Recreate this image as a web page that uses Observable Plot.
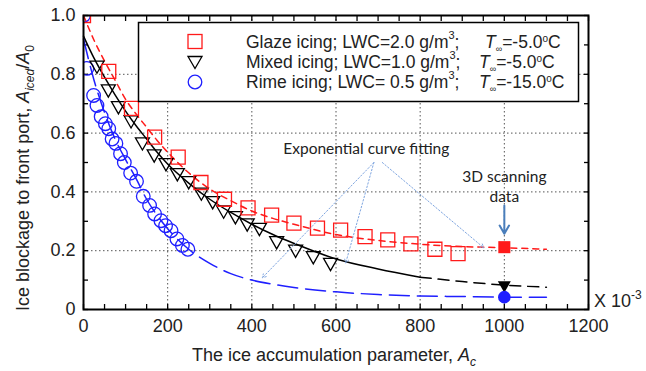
<!DOCTYPE html>
<html><head><meta charset="utf-8">
<script src="https://cdn.jsdelivr.net/npm/d3@7"></script>
<script src="https://cdn.jsdelivr.net/npm/@observablehq/plot@0.6"></script>
<style>body{margin:0;background:#fff}svg{display:block}</style>
</head><body>
<div id="chart"></div>
<script>
// ---- measured data ----
const glazeX = [0, 60, 114, 169, 225, 279, 335, 391, 447, 500, 556, 611, 669, 723, 778, 835, 890];
const glazeY = [1.0, 0.81, 0.684, 0.586, 0.518, 0.432, 0.375, 0.346, 0.321, 0.294, 0.277, 0.27, 0.248, 0.237, 0.223, 0.205, 0.19];
const mixedX = [32, 59, 83, 113, 140, 168, 196, 223, 250, 280, 307, 333, 361, 389, 418, 459, 504, 546, 587];
const mixedY = [0.826, 0.745, 0.688, 0.64, 0.565, 0.524, 0.494, 0.46, 0.433, 0.394, 0.365, 0.333, 0.314, 0.289, 0.274, 0.229, 0.2, 0.178, 0.155];
const rimeX = [0, 8, 24, 32, 42, 52, 60, 68, 77, 88, 97, 112, 126, 142, 157, 169, 184, 195, 208, 222, 235, 248];
const rimeY = [1.0, 0.82, 0.728, 0.694, 0.656, 0.632, 0.615, 0.58, 0.565, 0.53, 0.5, 0.464, 0.436, 0.385, 0.354, 0.325, 0.302, 0.285, 0.268, 0.24, 0.218, 0.205];
// exponential fit curves
const fitX = [0, 25, 50, 75, 100, 125, 150, 175, 200, 250, 300, 350, 400, 450, 500, 600, 700, 800, 900, 1000, 1100];
const glazeFitY = [1.0, 0.916, 0.845, 0.78, 0.715, 0.665, 0.62, 0.575, 0.535, 0.465, 0.41, 0.37, 0.335, 0.31, 0.29, 0.255, 0.235, 0.222, 0.214, 0.21, 0.205];
const mixedFitY = [0.93, 0.855, 0.79, 0.73, 0.675, 0.625, 0.58, 0.535, 0.495, 0.43, 0.375, 0.33, 0.29, 0.255, 0.225, 0.172, 0.138, 0.11, 0.095, 0.083, 0.076];
const rimeFitY = [0.92, 0.78, 0.67, 0.58, 0.51, 0.445, 0.375, 0.32, 0.275, 0.205, 0.157, 0.122, 0.1, 0.086, 0.075, 0.06, 0.051, 0.046, 0.044, 0.042, 0.042];
// 3D scanning data
const scanX = [1000, 1000, 1000];
const scanY = [0.212, 0.078, 0.042];
// annotation arrows
const fitArrowX1 = [690, 690, 710], fitArrowY1 = [0.5, 0.5, 0.5];
const fitArrowX2 = [425, 623, 951], fitArrowY2 = [0.108, 0.158, 0.21];
const scanArrowX = [1000], scanArrowY1 = [0.354], scanArrowY2 = [0.258];
const noteText = ["Exponential curve fitting", "3D scanning", "data"];
const noteX = [672, 1000, 1000], noteY = [0.545, 0.45, 0.383];
const xTicks = [0, 200, 400, 600, 800, 1000, 1200];
const yTicks = [0, 0.2, 0.4, 0.6, 0.8, 1.0];
const yTickLabels = ["0", "0.2", "0.4", "0.6", "0.8", "1.0"];

const RED = "#ff1a1a", BLUE = "#1f1fff", BLACK = "#000";
const triDown = {draw(ctx, size) {
  const r = Math.sqrt(size / Math.PI);
  const w = r * 1.0, t = r * 0.8, b = r * 0.95;
  ctx.moveTo(-w, -t); ctx.lineTo(w, -t); ctx.lineTo(0, b); ctx.closePath();
}};

const G = glazeX.map((x, i) => ({x, y: glazeY[i]}));
const M = mixedX.map((x, i) => ({x, y: mixedY[i]}));
const R = rimeX.map((x, i) => ({x, y: rimeY[i]}));
const GF = fitX.map((x, i) => ({x, y: glazeFitY[i]}));
const MF = fitX.map((x, i) => ({x, y: mixedFitY[i]}));
const RF = fitX.map((x, i) => ({x, y: rimeFitY[i]}));
const S = scanX.map((x, i) => ({x, y: scanY[i], k: i}));
const FA = fitArrowX1.map((x, i) => ({x1: x, y1: fitArrowY1[i], x2: fitArrowX2[i], y2: fitArrowY2[i]}));
const SA = scanArrowX.map((x, i) => ({x, y1: scanArrowY1[i], y2: scanArrowY2[i]}));
const N = noteText.map((t, i) => ({t, x: noteX[i], y: noteY[i]}));

const chart = Plot.plot({
  width: 646, height: 371,
  marginLeft: 83, marginRight: 58, marginTop: 15, marginBottom: 62,
  style: {fontFamily: "Liberation Sans, Arial, sans-serif", fontSize: "18px", background: "#fff"},
  x: {domain: [0, 1200]},
  y: {domain: [0, 1]},
  marks: [
    Plot.gridX({ticks: [200, 400, 600, 800, 1000], stroke: "#555", strokeOpacity: 1, strokeDasharray: "1.5,2.5"}),
    Plot.gridY({ticks: [0.2, 0.4, 0.6, 0.8], stroke: "#555", strokeOpacity: 1, strokeDasharray: "1.5,2.5"}),
    Plot.axisX({ticks: xTicks, tickSize: 0, tickPadding: 10, label: null, fontSize: 18, tickFormat: (d) => String(d), fill: "#222"}),
    Plot.axisY({ticks: yTicks, tickSize: 0, tickPadding: 8, label: null, fontSize: 18, fill: "#222", tickFormat: (d) => yTickLabels[yTicks.indexOf(d)] ?? ""}),
    Plot.axisX({ticks: d3.range(0, 1201, 50), tickSize: -5, tickFormat: () => "", label: null, strokeWidth: 1.3}),
    Plot.axisX({anchor: "top", ticks: d3.range(0, 1201, 50), tickSize: -5, tickFormat: () => "", label: null, strokeWidth: 1.3}),
    Plot.axisY({ticks: d3.range(0, 1.01, 0.1), tickSize: -5, tickFormat: () => "", label: null, strokeWidth: 1.3}),
    Plot.axisY({anchor: "right", ticks: d3.range(0, 1.01, 0.1), tickSize: -5, tickFormat: () => "", label: null, strokeWidth: 1.3}),
    // fit curves
    Plot.line(GF, {x: "x", y: "y", stroke: RED, strokeWidth: 1.5, strokeDasharray: "6,5", curve: "monotone-x"}),
    Plot.line(MF.filter(d => d.x <= 800), {x: "x", y: "y", stroke: BLACK, strokeWidth: 1.5, curve: "monotone-x"}),
    Plot.line(MF.filter(d => d.x >= 800), {x: "x", y: "y", stroke: BLACK, strokeWidth: 1.5, strokeDasharray: "11,7", curve: "monotone-x"}),
    Plot.line(RF, {x: "x", y: "y", stroke: BLUE, strokeWidth: 1.5, strokeDasharray: "20,8", curve: "monotone-x"}),
    // experimental points
    Plot.dot(R, {x: "x", y: "y", r: 6.8, stroke: BLUE, strokeWidth: 1.3, fill: "none", clip: true}),
    Plot.dot(M, {x: "x", y: "y", r: 7, symbol: triDown, stroke: BLACK, strokeWidth: 1.3, fill: "none"}),
    Plot.dot(G, {x: "x", y: "y", r: 7.9, symbol: "square", stroke: RED, strokeWidth: 1.3, fill: "none", clip: true}),
    // 3D scanning data
    Plot.dot(S.filter(d => d.k === 0), {x: "x", y: "y", r: 6.8, symbol: "square", fill: RED}),
    Plot.dot(S.filter(d => d.k === 1), {x: "x", y: "y", r: 6.5, symbol: triDown, fill: BLACK}),
    Plot.dot(S.filter(d => d.k === 2), {x: "x", y: "y", r: 6.3, fill: BLUE}),
    // annotations
    Plot.arrow(FA, {x1: "x1", y1: "y1", x2: "x2", y2: "y2", stroke: "#7fa6e0", strokeWidth: 1, strokeDasharray: "1.5,2", headLength: 6}),
    Plot.arrow(SA, {x1: "x", y1: "y1", x2: "x", y2: "y2", stroke: "#4a7ebb", strokeWidth: 2, headLength: 8}),
    Plot.text(N, {x: "x", y: "y", text: "t", fontFamily: "Lato, sans-serif", fontSize: 15.5, fill: "#222"}),
    Plot.frame({stroke: BLACK, strokeWidth: 2})
  ]
});
document.getElementById("chart").appendChild(chart);

// legend & axis titles (layout, not data)
const svg = d3.select(chart);
const FONT = "Liberation Sans, Arial, sans-serif";
const lg = svg.append("g").attr("text-anchor", "start");
lg.append("rect").attr("x", 138.5).attr("y", 22.5).attr("width", 440).attr("height", 79)
  .attr("fill", "#fff").attr("stroke", "#000").attr("stroke-width", 1.5);
const rows = [
  {y: 41.5, a: "Glaze icing; LWC=2.0 g/m", b: ";", tx: 485, t: "=-5.0", sym: "sq"},
  {y: 62, a: "Mixed icing; LWC=1.0 g/m", b: ";", tx: 479, t: "=-5.0", sym: "tri"},
  {y: 82, a: "Rime icing; LWC= 0.5 g/m", b: ";", tx: 479, t: "=-15.0", sym: "ci"}
];
rows.forEach(r => {
  if (r.sym === "sq") lg.append("rect").attr("x", 188).attr("y", r.y - 7).attr("width", 14).attr("height", 14).attr("fill", "none").attr("stroke", RED).attr("stroke-width", 1.3);
  if (r.sym === "tri") lg.append("path").attr("d", `M188,${r.y - 5.5}H202L195,${r.y + 6.5}Z`).attr("fill", "none").attr("stroke", BLACK).attr("stroke-width", 1.3);
  if (r.sym === "ci") lg.append("circle").attr("cx", 195).attr("cy", r.y).attr("r", 6.8).attr("fill", "none").attr("stroke", BLUE).attr("stroke-width", 1.3);
  const t = lg.append("text").attr("x", 246).attr("y", r.y + 6).attr("text-anchor", "start").attr("font-family", FONT).attr("font-size", 17.5).attr("fill", "#222");
  t.append("tspan").text(r.a);
  t.append("tspan").attr("font-size", 11).attr("dy", -9).text("3");
  t.append("tspan").attr("dy", 9).text(r.b);
  const u = lg.append("text").attr("x", r.tx).attr("y", r.y + 6).attr("text-anchor", "start").attr("font-family", FONT).attr("font-size", 17.5).attr("fill", "#222");
  u.append("tspan").attr("font-style", "italic").text("T");
  u.append("tspan").attr("font-size", 9).attr("dy", 4).text("∞");
  u.append("tspan").attr("dy", -4).text(r.t);
  u.append("tspan").attr("font-size", 10).attr("dy", -6).text("o");
  u.append("tspan").attr("dy", 6).text("C");
});
// x title
const xt = svg.append("text").attr("x", 334).attr("y", 361).attr("text-anchor", "middle").attr("font-family", FONT).attr("font-size", 18).attr("fill", "#222");
xt.append("tspan").text("The ice accumulation parameter, ");
xt.append("tspan").attr("font-style", "italic").text("A");
xt.append("tspan").attr("font-size", 12).attr("font-style", "italic").attr("dy", 5).text("c");
// y title
const yt = svg.append("text").attr("transform", "translate(29,178) rotate(-90)").attr("text-anchor", "middle").attr("font-family", FONT).attr("font-size", 18).attr("fill", "#222");
yt.append("tspan").text("Ice blockage to front port, ");
yt.append("tspan").attr("font-style", "italic").text("A");
yt.append("tspan").attr("font-size", 12).attr("font-style", "italic").attr("dy", 5).text("iced");
yt.append("tspan").attr("dy", -5).text("/");
yt.append("tspan").attr("font-style", "italic").text("A");
yt.append("tspan").attr("font-size", 12).attr("dy", 5).text("0");
// X 10^-3
const xm = svg.append("text").attr("x", 594).attr("y", 307).attr("text-anchor", "start").attr("font-family", FONT).attr("font-size", 18).attr("fill", "#222");
xm.append("tspan").text("X 10");
xm.append("tspan").attr("font-size", 12).attr("dy", -8).text("-3");
</script>
</body></html>
